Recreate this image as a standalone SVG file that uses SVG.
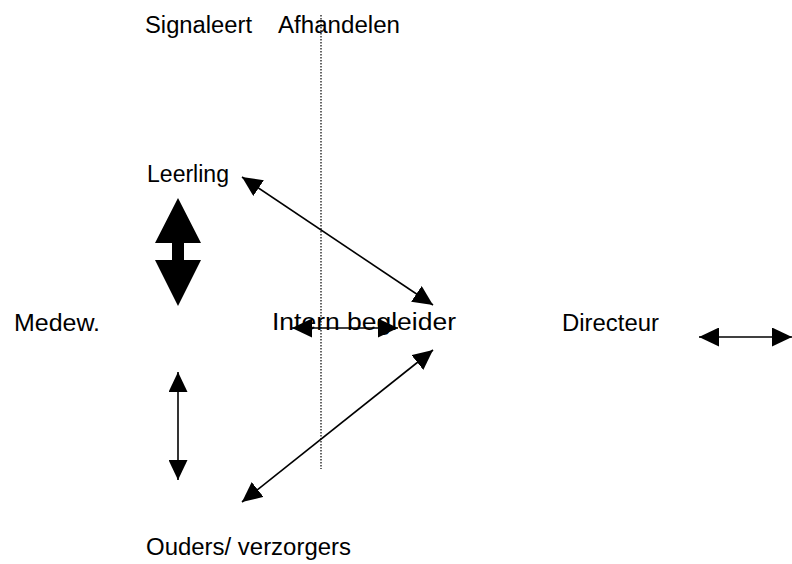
<svg xmlns="http://www.w3.org/2000/svg" width="792" height="564" viewBox="0 0 792 564">
<style>
text{font-family:"Liberation Sans",Arial,sans-serif;font-size:23px;fill:#000}
.c{stroke:#000;stroke-width:1.6;fill:none}
.d{stroke:#000;stroke-width:1.2;stroke-dasharray:1.5 1.5;fill:none}
</style>
<defs>
<marker id="ahL" viewBox="0 0 10 10" refX="10" refY="5" markerWidth="20" markerHeight="19" markerUnits="userSpaceOnUse" orient="auto-start-reverse" preserveAspectRatio="none">
<path d="M0,0 L10,5 L0,10 z" fill="#000"/>
</marker>
</defs>
<rect width="792" height="564" fill="#fff"/>
<g id="divider"><line class="d" x1="321" y1="15" x2="321" y2="469"/></g>
<g id="signaleert"><text x="145" y="33" textLength="107" lengthAdjust="spacingAndGlyphs">Signaleert</text></g>
<g id="afhandelen"><text x="278" y="33" textLength="122" lengthAdjust="spacingAndGlyphs">Afhandelen</text></g>
<g id="leerling"><text x="147" y="182" textLength="82" lengthAdjust="spacingAndGlyphs">Leerling</text></g>
<g id="medew"><text x="14" y="331" textLength="86" lengthAdjust="spacingAndGlyphs">Medew.</text></g>
<g id="ib"><text x="272" y="330" textLength="184" lengthAdjust="spacingAndGlyphs">Intern begleider</text></g>
<g id="directeur"><text x="562" y="331" textLength="97" lengthAdjust="spacingAndGlyphs">Directeur</text></g>
<g id="ouders"><text x="146" y="555" textLength="205" lengthAdjust="spacingAndGlyphs">Ouders/ verzorgers</text></g>
<g id="connectors">
<line class="c" x1="242" y1="177" x2="433" y2="305" marker-start="url(#ahL)" marker-end="url(#ahL)"/>
<line class="c" x1="433" y1="350" x2="242" y2="502" marker-start="url(#ahL)" marker-end="url(#ahL)"/>
<line class="c" x1="292" y1="328" x2="398" y2="328" marker-start="url(#ahL)" marker-end="url(#ahL)"/>
<line class="c" x1="699" y1="337" x2="792" y2="337" marker-start="url(#ahL)" marker-end="url(#ahL)"/>
<line class="c" x1="178" y1="372" x2="178" y2="480" marker-start="url(#ahL)" marker-end="url(#ahL)"/>
<path d="M178,198 L201,243 L184,243 L184,260 L201,260 L178,306 L155,260 L172,260 L172,243 L155,243 Z" fill="#000"/>
</g>
</svg>
